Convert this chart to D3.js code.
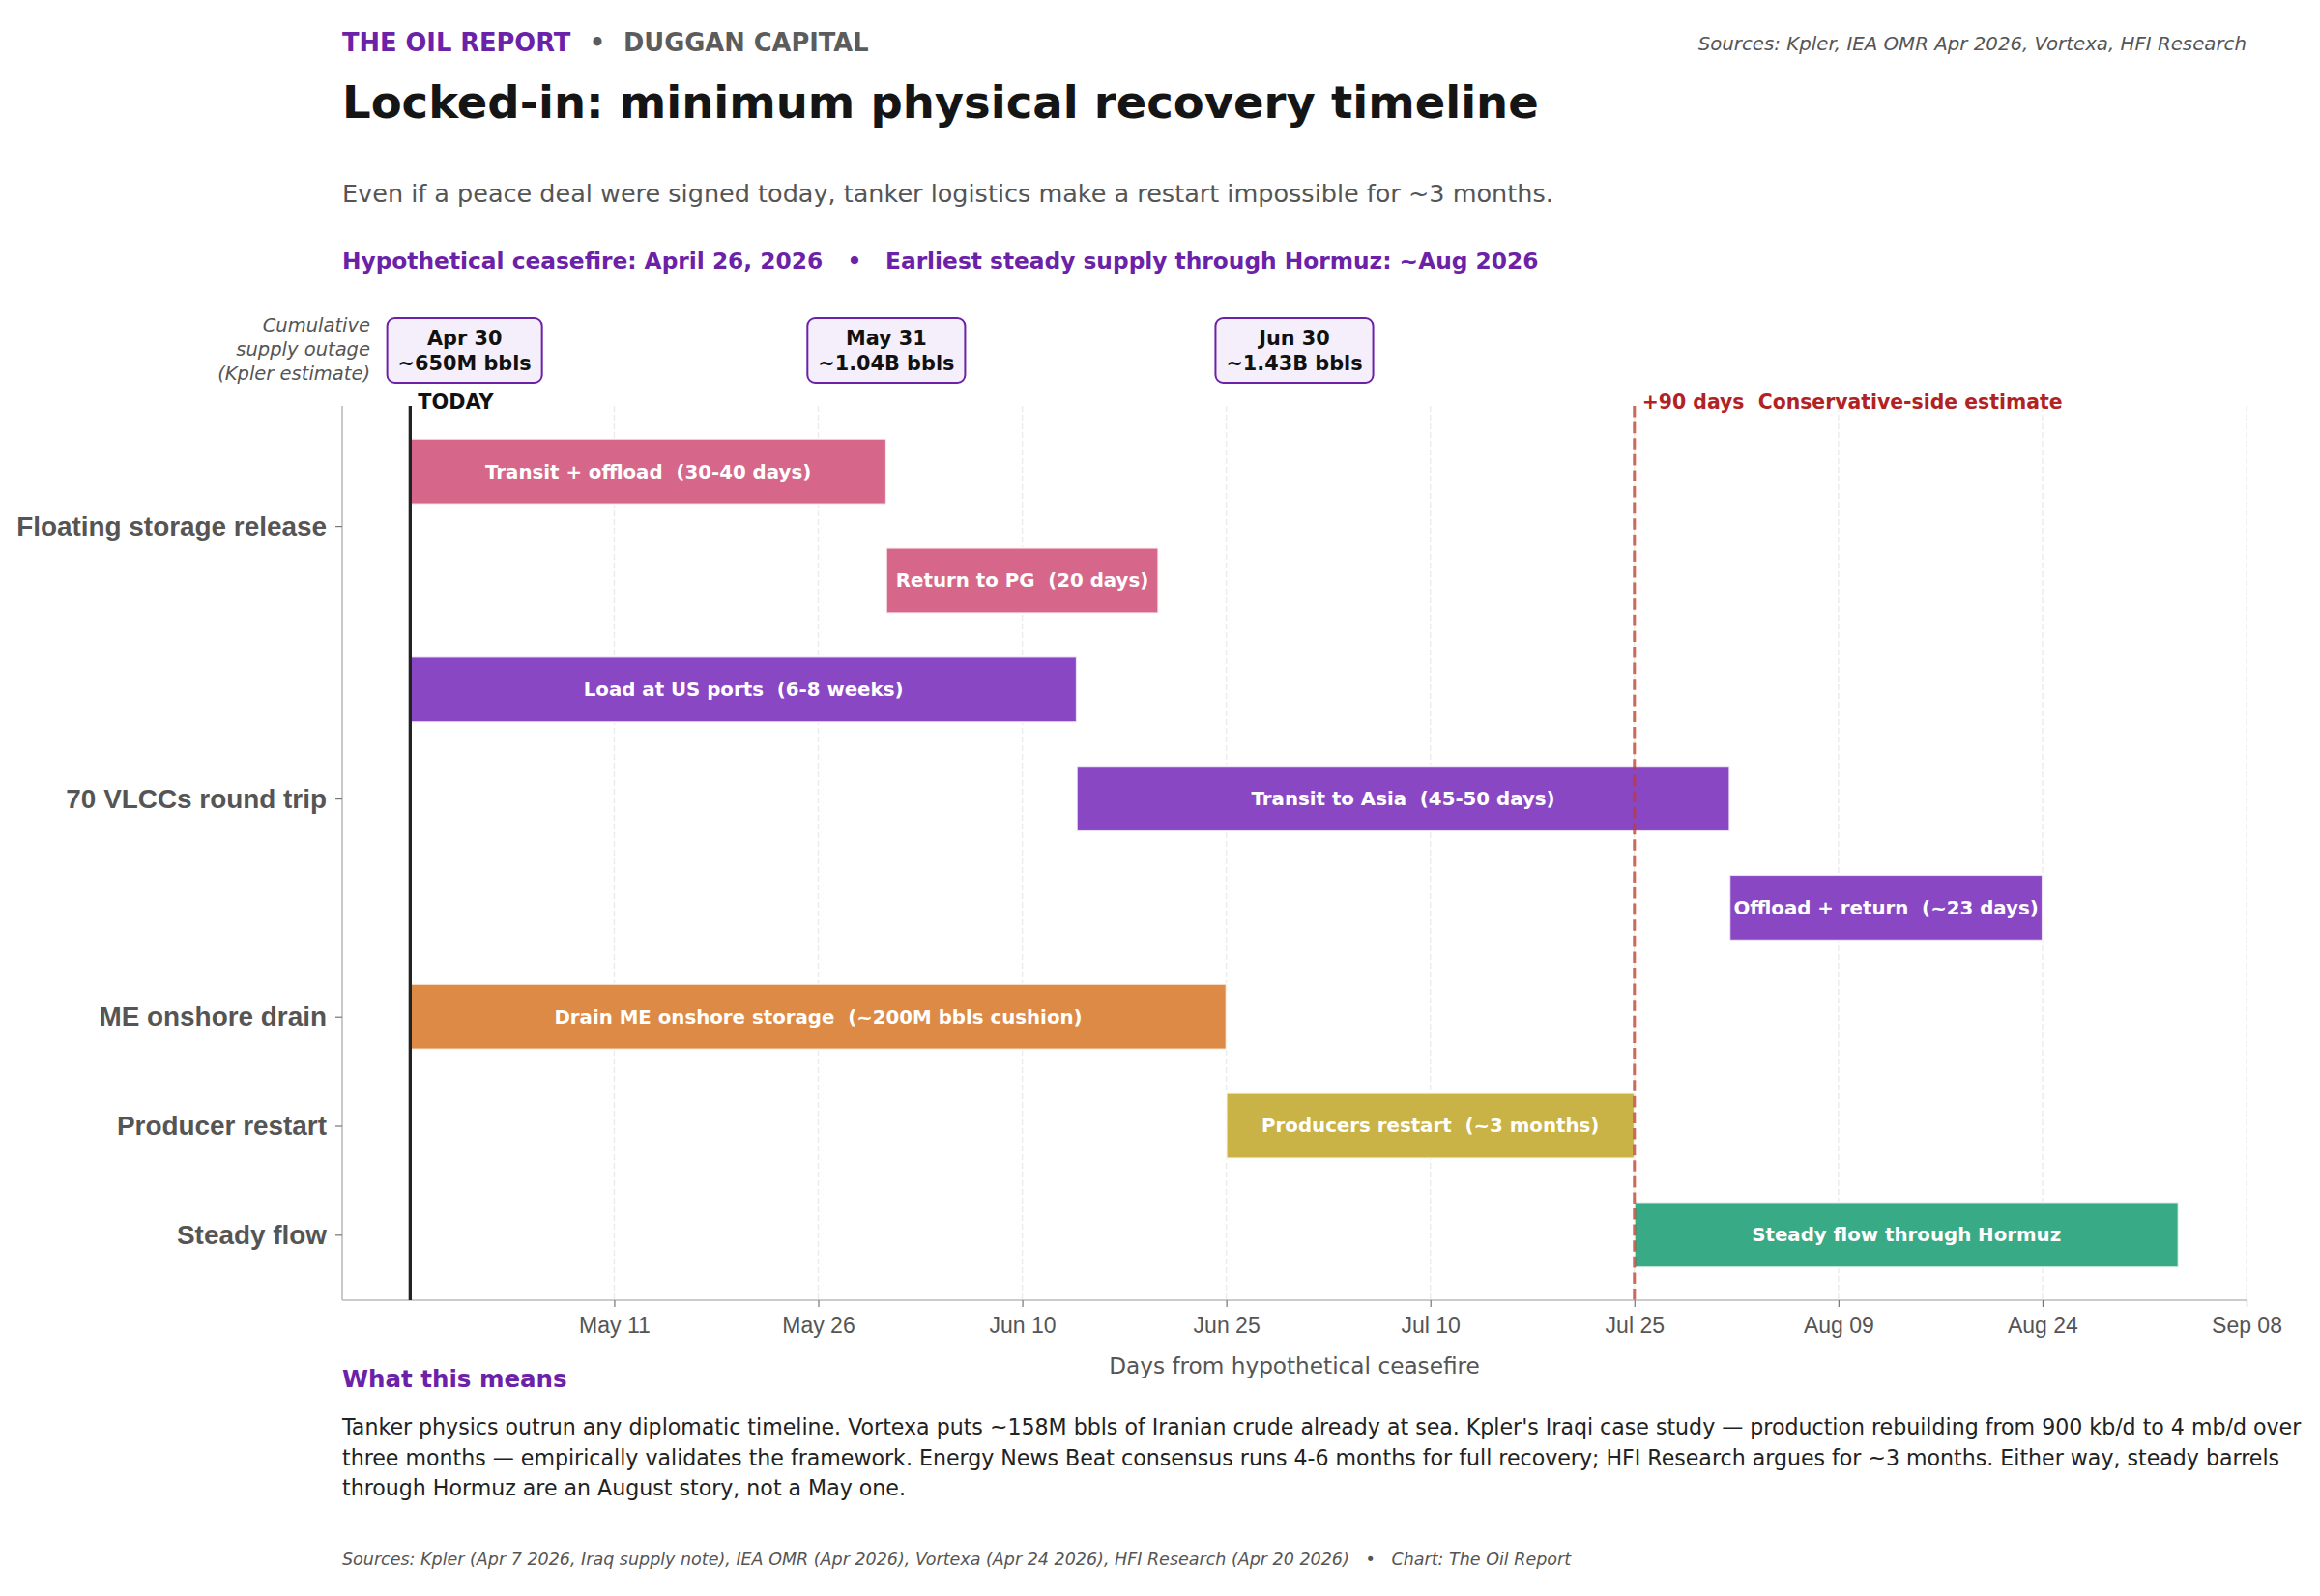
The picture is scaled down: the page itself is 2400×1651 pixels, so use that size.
<!DOCTYPE html>
<html>
<head>
<meta charset="utf-8">
<script src="https://cdn.jsdelivr.net/npm/d3@7"></script>
<style>
  body { margin: 0; background: #fff; }
  svg { display: block; font-family: "DejaVu Sans", sans-serif; }
  .x.axis text { fill: #555; font-size: 23px; }
  .y.axis text { fill: #555; font-size: 27.9px; font-weight: bold; }
  .axis .domain { stroke: #bbb; stroke-width: 1.6px; }
  .axis .tick line { stroke: #777; stroke-width: 1.2px; }
  .grid-line { stroke: #ececec; stroke-width: 1.5px; stroke-dasharray: 6,3; }
  .bar-label { fill: #fff; font-size: 19.8px; font-weight: bold; white-space: pre; }
</style>
</head>
<body>
<svg width="2400" height="1651"></svg>
<script>

// **** Data ****

var groupNames = ['Floating storage release', '70 VLCCs round trip', 'ME onshore drain', 'Producer restart', 'Steady flow'];

var phaseLabels = [
    'Transit + offload  (30-40 days)',
    'Return to PG  (20 days)',
    'Load at US ports  (6-8 weeks)',
    'Transit to Asia  (45-50 days)',
    'Offload + return  (~23 days)',
    'Drain ME onshore storage  (~200M bbls cushion)',
    'Producers restart  (~3 months)',
    'Steady flow through Hormuz'
];
var phaseGroup = [0, 0, 1, 1, 1, 2, 3, 4];
var phaseStart = [0, 35, 0, 49, 97, 0, 60, 90];   // days after ceasefire
var phaseEnd   = [35, 55, 49, 97, 120, 60, 90, 130];

var outageDays   = [4, 35, 65];
var outageDates  = ['Apr 30', 'May 31', 'Jun 30'];
var outageVolume = ['~650M bbls', '~1.04B bbls', '~1.43B bbls'];

var tickDays = [15, 30, 45, 60, 75, 90, 105, 120, 135];
var todayDay = 0;
var conservativeDay = 90;

var groupColors = ['#D6678A', '#8A47C4', '#DC8A45', '#C9B246', '#38AA85'];
var purple = '#6B21A8';

var bodyLines = [
    'Tanker physics outrun any diplomatic timeline. Vortexa puts ~158M bbls of Iranian crude already at sea. Kpler\'s Iraqi case study \u2014 production rebuilding from 900 kb/d to 4 mb/d over',
    'three months \u2014 empirically validates the framework. Energy News Beat consensus runs 4-6 months for full recovery; HFI Research argues for ~3 months. Either way, steady barrels',
    'through Hormuz are an August story, not a May one.'
];

// **** Scales and axes ****

var ceasefire = new Date(2026, 3, 26);
var dateFmt = d3.timeFormat('%b %d');

var xScale = d3.scaleLinear().domain([-5, 135]).range([354, 2324]);
var yScale = d3.scaleLinear().domain([-0.6, 7.6]).range([420, 1345]);
var barH = yScale(0.6) - yScale(0);

var svg = d3.select('svg');

// group tick sits at the mean row of its phases
var groupTicks = groupNames.map(function(name, g) {
    var rows = d3.range(phaseLabels.length).filter(function(i) { return phaseGroup[i] === g; });
    return d3.mean(rows);
});

svg.append('g').selectAll('line')
    .data(tickDays)
    .enter()
    .append('line')
    .attr('class', 'grid-line')
    .attr('x1', function(d) { return xScale(d); })
    .attr('x2', function(d) { return xScale(d); })
    .attr('y1', 420)
    .attr('y2', 1345);

svg.append('g').attr('class', 'x axis')
    .attr('transform', 'translate(0,1345)')
    .call(d3.axisBottom(xScale).tickValues(tickDays).tickSize(7).tickPadding(11)
        .tickFormat(function(d) { return dateFmt(d3.timeDay.offset(ceasefire, d)); }))
    .call(function(g) { g.select('.domain').attr('d', 'M354,0H2324'); });

svg.append('g').attr('class', 'y axis')
    .attr('transform', 'translate(354,0)')
    .call(d3.axisLeft(yScale).tickValues(groupTicks).tickSize(7).tickPadding(9)
        .tickFormat(function(d, i) { return groupNames[i]; }))
    .call(function(g) { g.select('.domain').attr('d', 'M0,420V1345'); });

svg.append('text')
    .attr('x', (354 + 2324) / 2)
    .attr('y', 1421)
    .attr('text-anchor', 'middle')
    .style('font-size', '23.2px')
    .style('fill', '#555')
    .text('Days from hypothetical ceasefire');

// **** Bars ****

var bars = svg.selectAll('g.phase')
    .data(d3.range(phaseLabels.length))
    .enter()
    .append('g')
    .attr('class', 'phase');

bars.append('rect')
    .attr('x', function(i) { return xScale(phaseStart[i]); })
    .attr('y', function(i) { return yScale(i) - barH / 2; })
    .attr('width', function(i) { return xScale(phaseEnd[i]) - xScale(phaseStart[i]); })
    .attr('height', barH)
    .attr('fill', function(i) { return groupColors[phaseGroup[i]]; })
    .attr('stroke', '#fff')
    .attr('stroke-opacity', 0.8)
    .attr('stroke-width', 2);

bars.append('text')
    .attr('class', 'bar-label')
    .attr('x', function(i) { return (xScale(phaseStart[i]) + xScale(phaseEnd[i])) / 2; })
    .attr('y', function(i) { return yScale(i); })
    .attr('dy', '0.35em')
    .attr('text-anchor', 'middle')
    .text(function(i) { return phaseLabels[i]; });

// **** Reference lines ****

svg.append('line')
    .attr('x1', xScale(todayDay)).attr('x2', xScale(todayDay))
    .attr('y1', 420).attr('y2', 1345)
    .attr('stroke', '#222')
    .attr('stroke-width', 3.3);

svg.append('text')
    .attr('x', xScale(todayDay) + 8)
    .attr('y', 423)
    .style('font-size', '20.8px')
    .style('font-weight', 'bold')
    .style('fill', '#111')
    .text('TODAY');

svg.append('line')
    .attr('x1', xScale(conservativeDay)).attr('x2', xScale(conservativeDay))
    .attr('y1', 420).attr('y2', 1345)
    .attr('stroke', '#C0392B')
    .attr('stroke-opacity', 0.75)
    .attr('stroke-width', 3.1)
    .attr('stroke-dasharray', '11.6,5');

svg.append('text')
    .attr('x', xScale(conservativeDay) + 8)
    .attr('y', 423)
    .style('white-space', 'pre')
    .style('font-size', '20.4px')
    .style('font-weight', 'bold')
    .style('fill', '#B22222')
    .text('+90 days  Conservative-side estimate');

// **** Cumulative outage boxes ****

var boxes = svg.selectAll('g.outage')
    .data(d3.range(outageDays.length))
    .enter()
    .append('g')
    .attr('class', 'outage')
    .attr('transform', function(i) { return 'translate(' + xScale(outageDays[i]) + ',0)'; });

var boxRects = boxes.append('rect')
    .attr('y', 329)
    .attr('height', 67)
    .attr('rx', 8)
    .attr('fill', '#F4EFFA')
    .attr('stroke', purple)
    .attr('stroke-width', 2);

var boxText = boxes.append('text')
    .attr('text-anchor', 'middle')
    .style('font-size', '20.8px')
    .style('font-weight', 'bold')
    .style('fill', '#111');

boxText.append('tspan').attr('x', 0).attr('y', 357).text(function(i) { return outageDates[i]; });
boxText.append('tspan').attr('x', 0).attr('y', 383).text(function(i) { return outageVolume[i]; });

boxRects.each(function(i) {
    var w = boxText.nodes()[i].getBBox().width + 22;
    d3.select(this).attr('x', -w / 2).attr('width', w);
});

var cumLabel = svg.append('text')
    .attr('text-anchor', 'end')
    .style('font-size', '19.5px')
    .style('font-style', 'italic')
    .style('fill', '#555');

['Cumulative', 'supply outage', '(Kpler estimate)'].forEach(function(t, k) {
    cumLabel.append('tspan').attr('x', 383).attr('y', 343 + k * 25).text(t);
});

// **** Header ****

svg.append('text')
    .attr('x', 354).attr('y', 53)
    .style('font-size', '25.7px').style('font-weight', 'bold').style('fill', purple)
    .text('THE OIL REPORT');

svg.append('text')
    .attr('x', 618).attr('y', 53).attr('text-anchor', 'middle')
    .style('font-size', '25.7px').style('font-weight', 'bold').style('fill', '#5c5c5c')
    .text('\u2022');

svg.append('text')
    .attr('x', 645).attr('y', 53)
    .style('font-size', '25.7px').style('font-weight', 'bold').style('fill', '#5c5c5c')
    .text('DUGGAN CAPITAL');

svg.append('text')
    .attr('x', 2324).attr('y', 52).attr('text-anchor', 'end')
    .style('font-size', '19.8px').style('font-style', 'italic').style('fill', '#555')
    .text('Sources: Kpler, IEA OMR Apr 2026, Vortexa, HFI Research');

svg.append('text')
    .attr('x', 354).attr('y', 122)
    .style('font-size', '46.5px').style('font-weight', 'bold').style('fill', '#151515')
    .text('Locked-in: minimum physical recovery timeline');

svg.append('text')
    .attr('x', 354).attr('y', 209)
    .style('font-size', '25.5px').style('fill', '#555')
    .text('Even if a peace deal were signed today, tanker logistics make a restart impossible for ~3 months.');

svg.append('text')
    .attr('x', 354).attr('y', 278)
    .style('font-size', '23.3px').style('font-weight', 'bold').style('fill', purple)
    .text('Hypothetical ceasefire: April 26, 2026');

svg.append('text')
    .attr('x', 884).attr('y', 278).attr('text-anchor', 'middle')
    .style('font-size', '23.3px').style('font-weight', 'bold').style('fill', purple)
    .text('\u2022');

svg.append('text')
    .attr('x', 916).attr('y', 278)
    .style('font-size', '23.3px').style('font-weight', 'bold').style('fill', purple)
    .text('Earliest steady supply through Hormuz: ~Aug 2026');

// **** Footer ****

svg.append('text')
    .attr('x', 354).attr('y', 1435)
    .style('font-size', '24.5px').style('font-weight', 'bold').style('fill', purple)
    .text('What this means');

svg.append('g').selectAll('text')
    .data(bodyLines)
    .enter()
    .append('text')
    .attr('x', 354)
    .attr('y', function(d, k) { return 1484 + k * 31.5; })
    .style('font-size', '22.1px')
    .style('fill', '#222')
    .text(function(d) { return d; });

svg.append('text')
    .attr('x', 354).attr('y', 1619)
    .style('white-space', 'pre')
    .style('font-size', '17.5px').style('font-style', 'italic').style('fill', '#555')
    .text('Sources: Kpler (Apr 7 2026, Iraq supply note), IEA OMR (Apr 2026), Vortexa (Apr 24 2026), HFI Research (Apr 20 2026)   \u2022   Chart: The Oil Report');

</script>
</body>
</html>
